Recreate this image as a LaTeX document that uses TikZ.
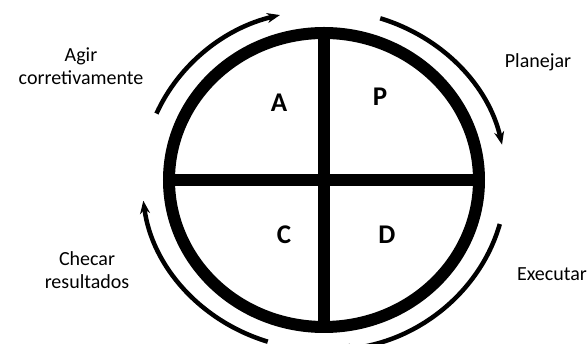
\documentclass[tikz,border=0pt]{standalone}
\usepackage{fontspec}
\setmainfont{Carlito}
\usetikzlibrary{shapes.geometric, arrows.meta, positioning, calc}
\tikzset{
	ring/.style     ={ellipse, draw=black, line width=12pt, minimum width=310pt, minimum height=294pt, inner sep=0pt, outer sep=0pt},
	bar/.style      ={line width=12pt},
	stage/.style    ={font=\fontsize{27}{30}\selectfont\bfseries, inner sep=0pt},
	note/.style     ={font=\fontsize{20}{23}\selectfont, align=center, inner sep=0pt},
	cyclearrow/.style={-{Stealth[length=13pt, width=10pt]}, line width=4.5pt},
}

\begin{document}
\begin{tikzpicture}[x=1pt, y=1pt]
	\useasboundingbox (-324,-164) rectangle (263,180);
	\clip (-324,-164) rectangle (263,180);
	\node[ring] (cycle) at (0,0) {};
	\draw[bar] (cycle.north) -- (cycle.south);
	\draw[bar] (cycle.west) -- (cycle.east);
	% quadrants
	\node[stage] (act) at (-45,77) {A};
	\node[stage] (plan) at (56,83) {P};
	\node[stage] (check) at (-40,-55) {C};
	\node[stage] (do) at (63,-55) {D};
	% labels
	\node[note] (agir) at (-243,114) {Agir\\ corretivamente};
	\node[note] (planejar) at (214,118) {Planejar};
	\node[note] (executar) at (228,-94) {Executar};
	\node[note] (checar) at (-237,-90) {Checar\\ resultados};
	% cycle arrows
	\draw[cyclearrow] ($(cycle.center)+(157:182pt and 170pt)$) arc[start angle=157, end angle=104, x radius=182pt, y radius=170pt];
	\draw[cyclearrow] ($(cycle.center)+(72:182pt and 170pt)$) arc[start angle=72, end angle=12, x radius=182pt, y radius=170pt];
	\draw[cyclearrow] ($(cycle.center)+(-15:182pt and 170pt)$) arc[start angle=-15, end angle=-86, x radius=182pt, y radius=170pt];
	\draw[cyclearrow] ($(cycle.center)+(252:182pt and 170pt)$) arc[start angle=252, end angle=187, x radius=182pt, y radius=170pt];
\end{tikzpicture}
\end{document}
